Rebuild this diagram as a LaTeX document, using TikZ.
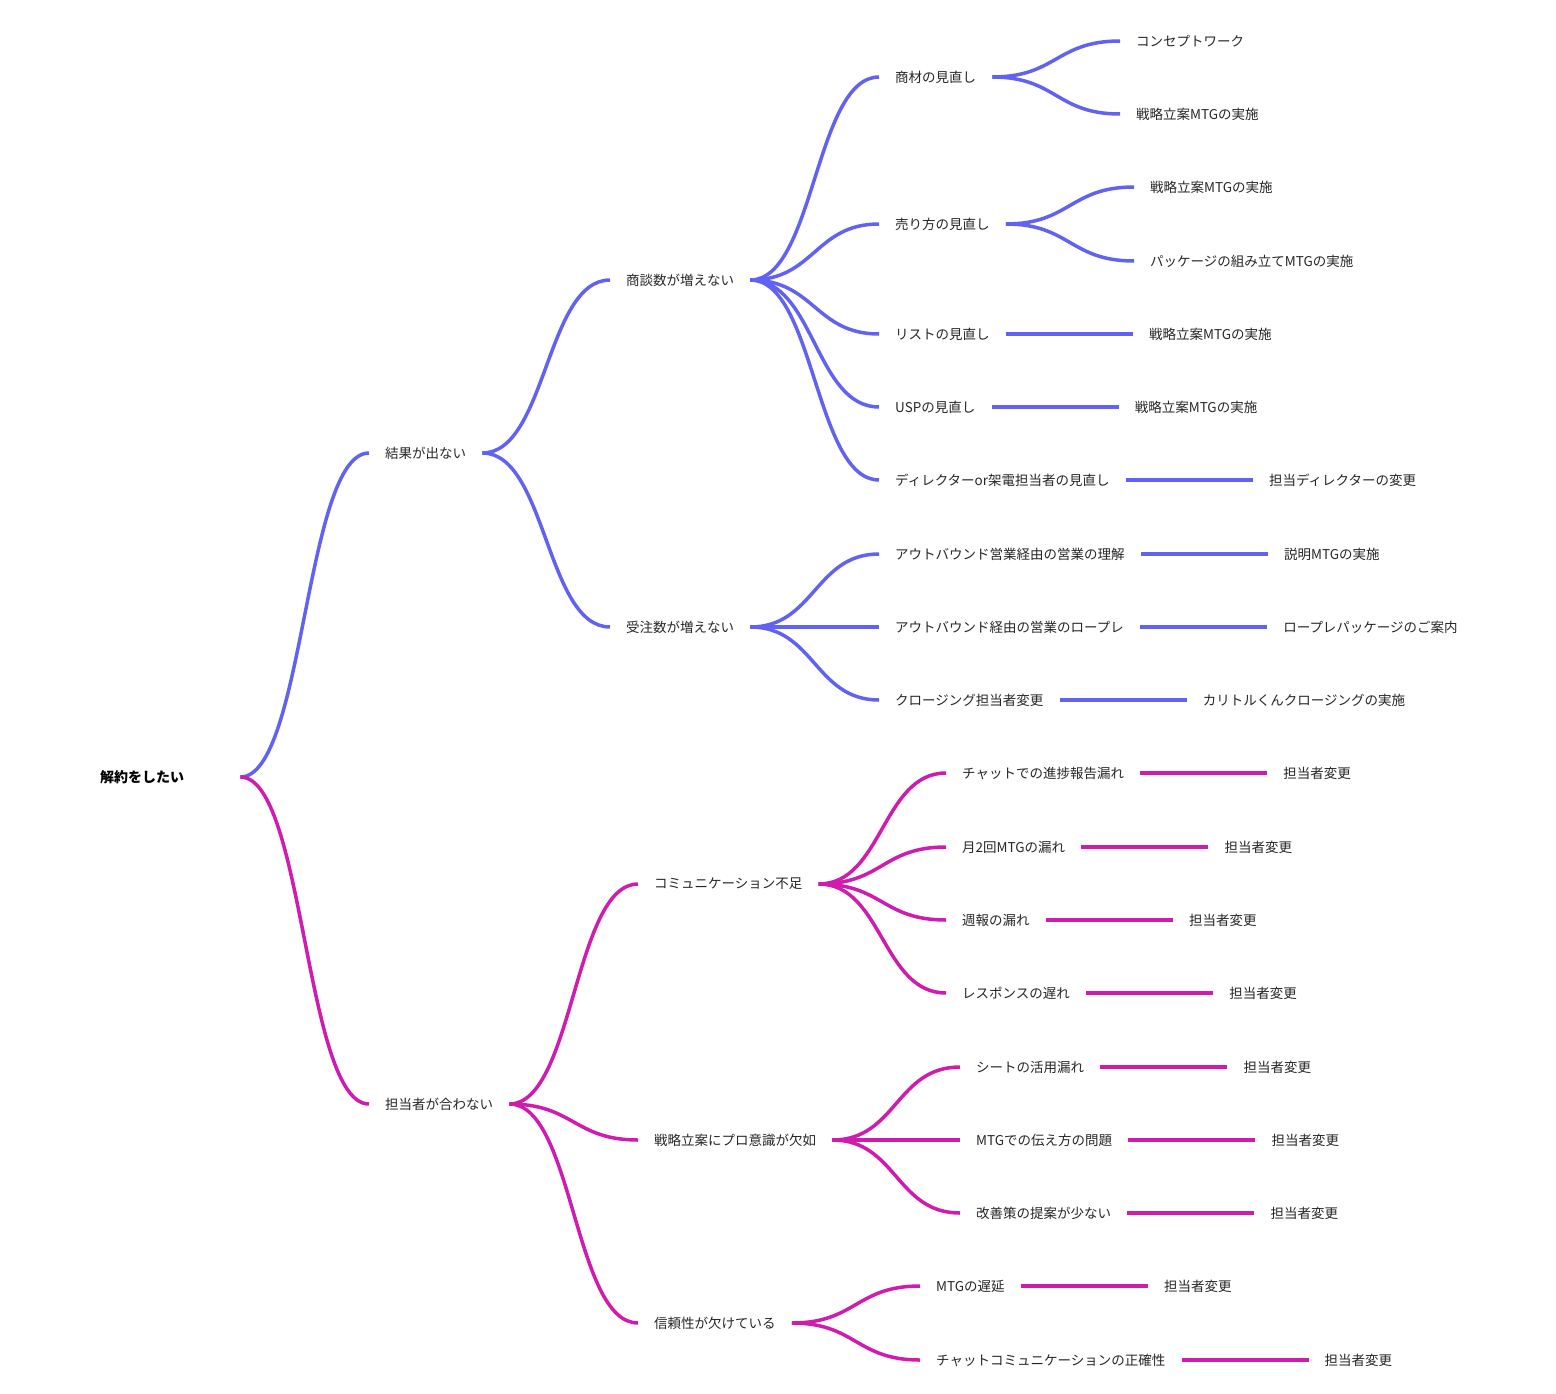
\documentclass[tikz,border=0pt]{standalone}
\usepackage{fontspec}
\setmainfont{Noto Sans CJK JP}
\usepackage{tikz}
\usetikzlibrary{positioning,calc}
\definecolor{mapblue}{HTML}{6262F2}
\definecolor{mapmagenta}{HTML}{D01CAE}
\definecolor{maptext}{HTML}{262626}

\begin{document}
\begin{tikzpicture}[
  x=1pt,y=-1pt,
  node distance=127pt,
  topic/.style={anchor=west,inner xsep=16pt,inner ysep=3pt,text=maptext,font=\fontsize{13.5}{16}\selectfont},
  rootnode/.style={anchor=west,inner sep=0pt,text width=140pt,align=left,font=\fontsize{14}{16}\selectfont\bfseries},
  blu/.style={draw=mapblue,line width=3.5pt},
  mag/.style={draw=mapmagenta,line width=3.5pt},
  branch/.style={to path={.. controls +(64,0) and +(-64,0) .. (\tikztotarget)}}]
  \useasboundingbox (0,0) rectangle (1556,1394);
  % root and first levels
  \node[rootnode] (root) at (100,777) {解約をしたい};
  \node[topic] (kekka) at (369,453) {結果が出ない};
  \node[topic] (tanto) at (369,1104) {担当者が合わない};
  \node[topic] (shodan) at (610,280) {商談数が増えない};
  \node[topic] (juchu) at (610,627) {受注数が増えない};
  \node[topic] (comm) at (638,884) {コミュニケーション不足};
  \node[topic] (pro) at (638,1140) {戦略立案にプロ意識が欠如};
  \node[topic] (shinrai) at (638,1323) {信頼性が欠けている};
  % blue side
  \node[topic] (shozai) at (879,77) {商材の見直し};
  \node[topic] (urikata) at (879,224) {売り方の見直し};
  \node[topic] (list) at (879,334) {リストの見直し};
  \node[topic] (usp) at (879,407) {USPの見直し};
  \node[topic] (dir) at (879,480) {ディレクターor架電担当者の見直し};
  \node[topic] (rikai) at (879,554) {アウトバウンド営業経由の営業の理解};
  \node[topic] (ropure) at (879,627) {アウトバウンド経由の営業のロープレ};
  \node[topic] (closing) at (879,700) {クロージング担当者変更};
  \node[topic] (concept) at (1120,41) {コンセプトワーク};
  \node[topic] (shozai2) at (1120,114) {戦略立案MTGの実施};
  \node[topic] (urikata1) at (1134,187) {戦略立案MTGの実施};
  \node[topic] (urikata2) at (1134,261) {パッケージの組み立てMTGの実施};
  \node[topic,right=of list] (list1) {戦略立案MTGの実施};
  \node[topic,right=of usp] (usp1) {戦略立案MTGの実施};
  \node[topic,right=of dir] (dir1) {担当ディレクターの変更};
  \node[topic,right=of rikai] (rikai1) {説明MTGの実施};
  \node[topic,right=of ropure] (ropure1) {ロープレパッケージのご案内};
  \node[topic,right=of closing] (closing1) {カリトルくんクロージングの実施};
  % magenta side
  \node[topic] (chat) at (946,773) {チャットでの進捗報告漏れ};
  \node[topic] (getsu) at (946,847) {月2回MTGの漏れ};
  \node[topic] (shuho) at (946,920) {週報の漏れ};
  \node[topic] (resp) at (946,993) {レスポンスの遅れ};
  \node[topic] (sheet) at (960,1067) {シートの活用漏れ};
  \node[topic] (tsutae) at (960,1140) {MTGでの伝え方の問題};
  \node[topic] (kaizen) at (960,1213) {改善策の提案が少ない};
  \node[topic] (chien) at (920,1286) {MTGの遅延};
  \node[topic] (seikaku) at (920,1360) {チャットコミュニケーションの正確性};
  \foreach \a in {chat,getsu,shuho,resp,sheet,tsutae,kaizen,chien,seikaku}
    \node[topic,right=of \a] (\a1) {担当者変更};
  % connectors
  \draw[blu] (root.east) to[branch] (kekka.west);
  \draw[mag] (root.east) to[branch] (tanto.west);
  \foreach \a/\b in {kekka/shodan,kekka/juchu,shodan/shozai,shodan/urikata,shodan/list,shodan/usp,shodan/dir,
    juchu/rikai,juchu/ropure,juchu/closing,shozai/concept,shozai/shozai2,urikata/urikata1,urikata/urikata2}
    \draw[blu] (\a.east) to[branch] (\b.west);
  \foreach \a in {list,usp,dir,rikai,ropure,closing} \draw[blu] (\a) -- (\a1);
  \foreach \a/\b in {tanto/comm,tanto/pro,tanto/shinrai,comm/chat,comm/getsu,comm/shuho,comm/resp,
    pro/sheet,pro/tsutae,pro/kaizen,shinrai/chien,shinrai/seikaku}
    \draw[mag] (\a.east) to[branch] (\b.west);
  \foreach \a in {chat,getsu,shuho,resp,sheet,tsutae,kaizen,chien,seikaku} \draw[mag] (\a) -- (\a1);
\end{tikzpicture}
\end{document}
